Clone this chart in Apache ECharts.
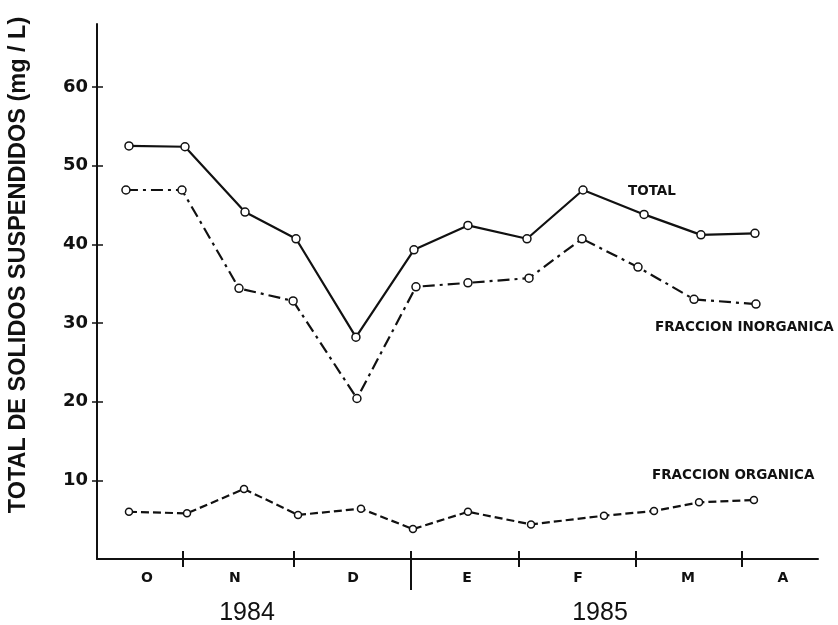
<!DOCTYPE html>
<html>
<head>
<meta charset="utf-8">
<script src="https://cdn.jsdelivr.net/npm/echarts@6/dist/echarts.min.js"></script>
<style>
html,body{margin:0;padding:0;background:#fff;}
#chart{width:838px;height:625px;}
</style>
</head>
<body>
<div id="chart"></div>
<script>
// Sample positions in month units (1 = start of Nov 1984, 3 = start of Jan 1985)
const totalX = [0.517, 1.018, 1.555, 2.011, 2.547, 3.066, 3.549, 4.077, 4.578, 5.124, 5.633, 6.116];
const totalY = [52.5, 52.4, 44.1, 40.7, 28.2, 39.3, 42.4, 40.7, 46.9, 43.8, 41.2, 41.4];

const inorgX = [0.490, 0.991, 1.501, 1.985, 2.556, 3.084, 3.549, 4.095, 4.569, 5.070, 5.571, 6.125];
const inorgY = [46.9, 46.9, 34.4, 32.8, 20.4, 34.6, 35.1, 35.7, 40.7, 37.1, 33.0, 32.4];

const orgX = [0.517, 1.036, 1.546, 2.029, 2.592, 3.057, 3.549, 4.113, 4.766, 5.213, 5.616, 6.107];
const orgY = [6.0, 5.8, 8.9, 5.6, 6.4, 3.8, 6.0, 4.4, 5.5, 6.1, 7.2, 7.5];

const monthEdges = [1.0, 1.99, 3.04, 4.005, 5.05, 6.0];
const yearEdge = [3.04];
const monthLabelPos = [0.678, 1.465, 2.521, 3.540, 4.533, 5.517, 6.367];
const monthNames = ['O', 'N', 'D', 'E', 'F', 'M', 'A'];
const yTickValues = [10, 20, 30, 40, 50, 60];
const yearNames = ['1984', '1985'];
const yTitle = 'TOTAL DE SOLIDOS SUSPENDIDOS (mg / L)';
const seriesNames = ['TOTAL', 'FRACCION INORGANICA', 'FRACCION ORGANICA'];

const zip = (xs, ys) => xs.map((x, i) => [x, ys[i]]);
const INK = '#111';
const FONT = '"Liberation Sans", Arial, sans-serif';
const WIDE = '"DejaVu Sans", "Liberation Sans", sans-serif';

const chart = echarts.init(document.getElementById('chart'), null, {renderer: 'canvas'});

const xCommon = {type: 'value', min: 0.231, max: 6.68, gridIndex: 0, splitLine: {show: false}};
const yCommon = {type: 'value', min: 0, max: 68, splitLine: {show: false}};

const markerStyle = {color: '#fff', borderColor: INK, borderWidth: 1.5};

chart.setOption({
  animation: false,
  backgroundColor: '#fff',
  grid: {left: 97, right: 20, top: 24, bottom: 66, containLabel: false},
  xAxis: [
    Object.assign({}, xCommon, {
      position: 'bottom',
      axisLine: {show: true, onZero: false, lineStyle: {color: INK, width: 2}},
      axisTick: {show: true, customValues: monthEdges, length: 8, lineStyle: {color: INK, width: 2}},
      axisLabel: {
        show: true, customValues: monthLabelPos, margin: 12,
        color: INK, fontSize: 14, fontWeight: 'bold', fontFamily: WIDE,
        formatter: function (v) {
          let best = 0, d = 1e9;
          monthLabelPos.forEach((p, i) => { if (Math.abs(p - v) < d) { d = Math.abs(p - v); best = i; } });
          return monthNames[best];
        }
      }
    }),
    Object.assign({}, xCommon, {
      position: 'bottom',
      axisLine: {show: false, onZero: false},
      axisTick: {show: true, inside: true, customValues: monthEdges, length: 8, lineStyle: {color: INK, width: 2}},
      axisLabel: {show: false}
    }),
    Object.assign({}, xCommon, {
      position: 'bottom',
      axisLine: {show: false, onZero: false},
      axisTick: {show: true, customValues: yearEdge, length: 31, lineStyle: {color: INK, width: 2}},
      axisLabel: {show: false}
    })
  ],
  yAxis: [
    Object.assign({}, yCommon, {
      position: 'left',
      axisLine: {show: true, onZero: false, lineStyle: {color: INK, width: 2}},
      axisTick: {show: true, customValues: yTickValues, length: 5, lineStyle: {color: INK, width: 1.5}},
      axisLabel: {
        show: true, customValues: yTickValues, margin: 9,
        color: INK, fontSize: 18, fontWeight: 'bold', fontFamily: WIDE
      }
    }),
    Object.assign({}, yCommon, {
      position: 'left',
      axisLine: {show: false, onZero: false},
      axisTick: {show: true, inside: true, customValues: yTickValues, length: 6, lineStyle: {color: INK, width: 1.5}},
      axisLabel: {show: false}
    })
  ],
  series: [
    {
      name: seriesNames[0], type: 'line', xAxisIndex: 0, yAxisIndex: 0,
      data: zip(totalX, totalY),
      symbol: 'circle', symbolSize: 8, showAllSymbol: true,
      lineStyle: {color: INK, width: 2.2, type: 'solid'},
      itemStyle: markerStyle, z: 3
    },
    {
      name: seriesNames[1], type: 'line', xAxisIndex: 0, yAxisIndex: 0,
      data: zip(inorgX, inorgY),
      symbol: 'circle', symbolSize: 8, showAllSymbol: true,
      lineStyle: {color: INK, width: 2.2, type: [12, 5, 3, 5]},
      itemStyle: markerStyle, z: 3
    },
    {
      name: seriesNames[2], type: 'line', xAxisIndex: 0, yAxisIndex: 0,
      data: zip(orgX, orgY),
      symbol: 'circle', symbolSize: 7, showAllSymbol: true,
      lineStyle: {color: INK, width: 2.2, type: [8, 4]},
      itemStyle: markerStyle, z: 3
    }
  ],
  graphic: [
    {type: 'text', x: 19, y: 265, rotation: Math.PI / 2,
      style: {text: yTitle, fill: INK, font: 'bold 23.5px ' + FONT, textAlign: 'center', textVerticalAlign: 'middle'}},
    {type: 'text', x: 247, y: 613,
      style: {text: yearNames[0], fill: INK, font: '25px ' + FONT, textAlign: 'center', textVerticalAlign: 'middle'}},
    {type: 'text', x: 600, y: 613,
      style: {text: yearNames[1], fill: INK, font: '25px ' + FONT, textAlign: 'center', textVerticalAlign: 'middle'}},
    {type: 'text', x: 628, y: 191,
      style: {text: seriesNames[0], fill: INK, font: 'bold 13.5px ' + WIDE, textAlign: 'left', textVerticalAlign: 'middle'}},
    {type: 'text', x: 655, y: 327,
      style: {text: seriesNames[1], fill: INK, font: 'bold 13.5px ' + WIDE, textAlign: 'left', textVerticalAlign: 'middle'}},
    {type: 'text', x: 652, y: 475,
      style: {text: seriesNames[2], fill: INK, font: 'bold 13.5px ' + WIDE, textAlign: 'left', textVerticalAlign: 'middle'}}
  ]
});
</script>
</body>
</html>
